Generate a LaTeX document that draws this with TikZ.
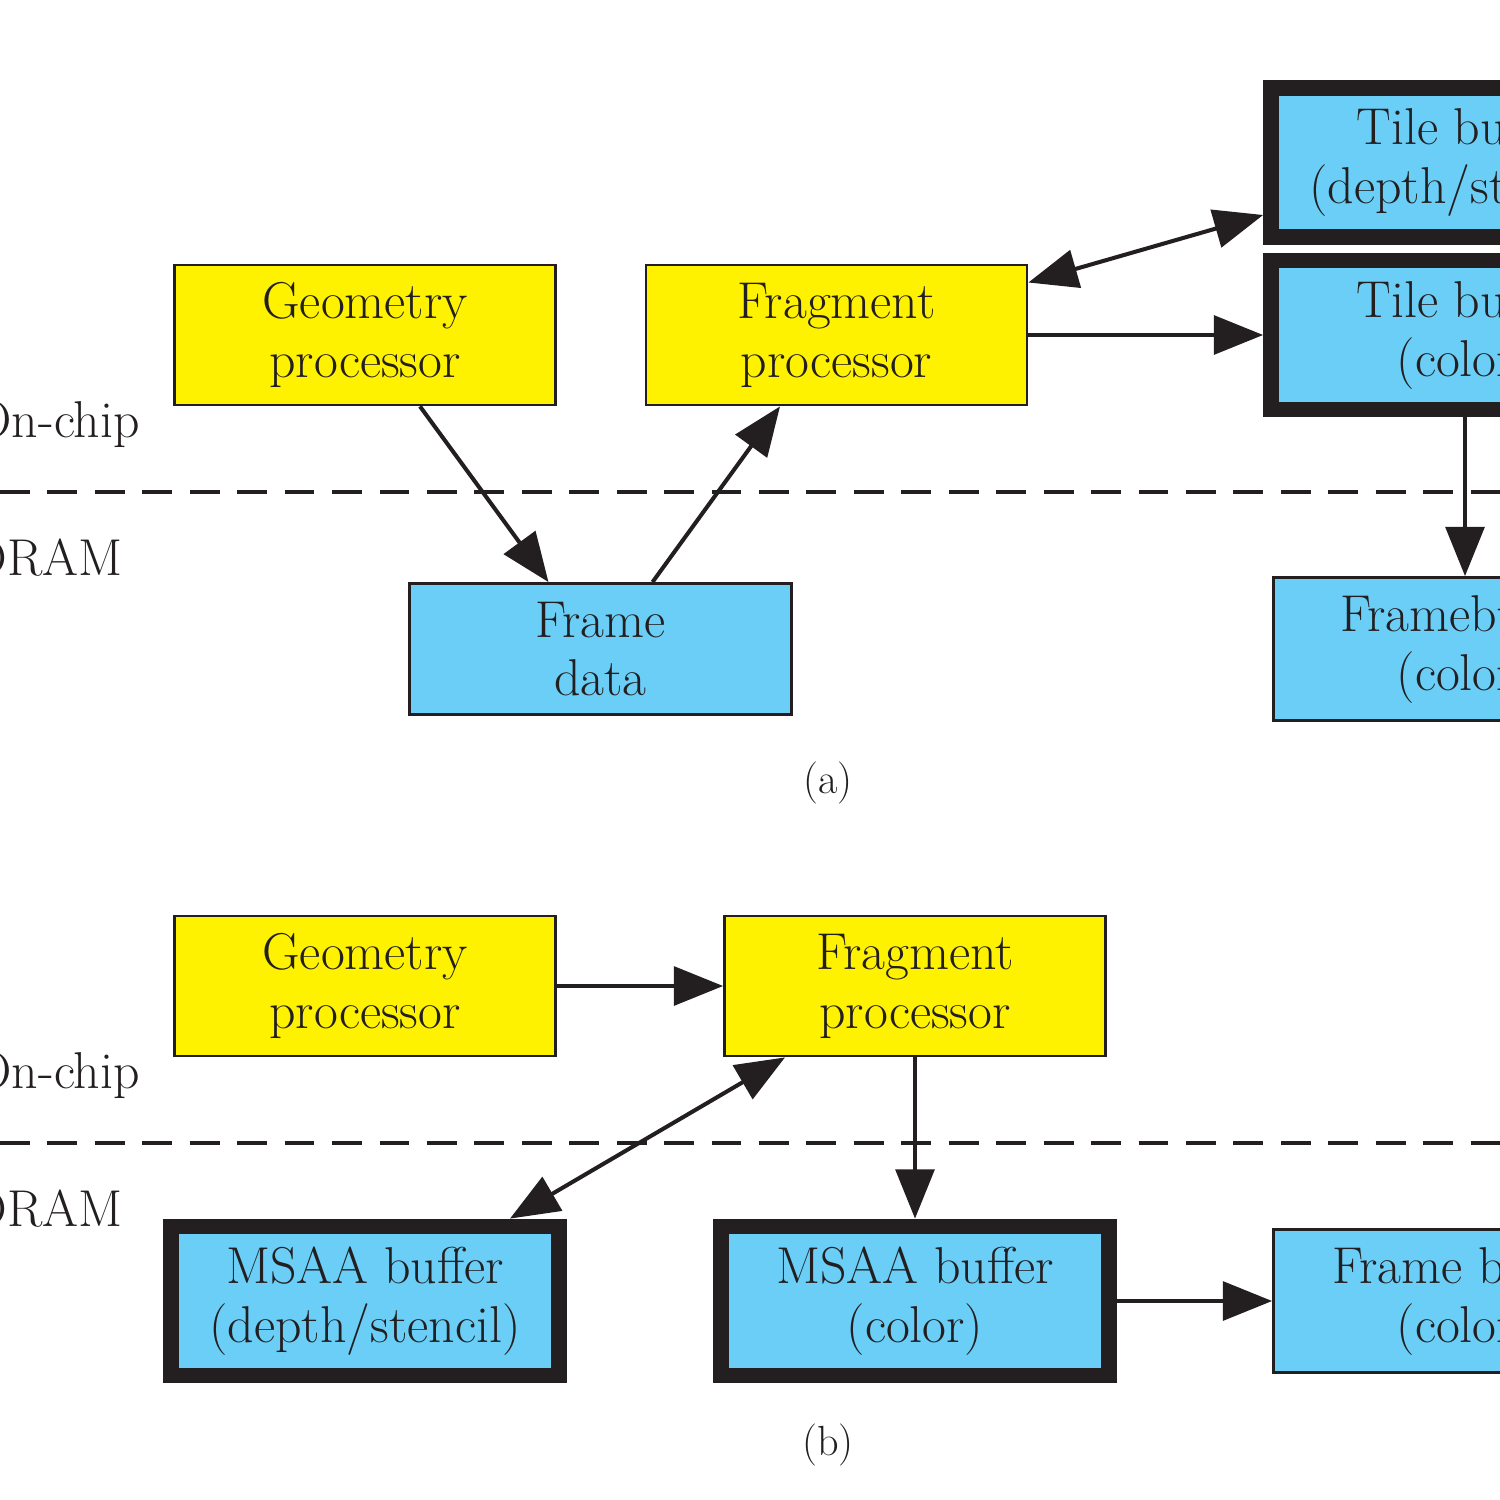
\documentclass[tikz,border=0pt]{standalone}
\usepackage{xcolor}
\usepackage{tikz}
\usetikzlibrary{arrows.meta}

\definecolor{procyellow}{RGB}{255,242,0}
\definecolor{bufblue}{RGB}{106,206,246}
\definecolor{inkblack}{RGB}{35,31,32}

\begin{document}
\begin{tikzpicture}[x=0.02cm, y=-0.02cm,
    every node/.style={text=inkblack, font=\fontsize{29.5}{33.5}\selectfont},
    proc/.style={draw=inkblack, line width=1.6pt, fill=procyellow, align=center,
                 inner sep=0pt, minimum width=7.62cm, minimum height=2.8cm},
    dram/.style={draw=inkblack, line width=1.6pt, fill=bufblue, align=center,
                 inner sep=0pt, minimum width=7.64cm, minimum height=2.8cm},
    tilebuf/.style={draw=inkblack, line width=9pt, fill=bufblue, align=center,
                 inner sep=0pt, minimum width=7.76cm, minimum height=2.98cm},
    side/.style={anchor=base east, inner sep=0pt},
    caption/.style={font=\fontsize{24}{28}\selectfont},
    conn/.style={draw=inkblack, line width=2.3pt, -{Triangle[length=28pt,width=22pt]}},
    conntwo/.style={draw=inkblack, line width=2.3pt, {Triangle[length=28pt,width=22pt]}-{Triangle[length=28pt,width=22pt]}},
    border/.style={draw=inkblack, line width=2.4pt, dash pattern=on 17pt off 10pt}]

  \useasboundingbox (0,0) rectangle (1500,1500);
  \clip (0,0) rectangle (1500,1500);

  % (a) tiled
  \node[proc] (geoA) at (365,335) {Geometry\\processor};
  \node[proc] (fragA) at (836.5,335) {Fragment\\processor};
  \node[dram, minimum height=2.62cm] (dataA) at (600.5,649) {Frame\\data};
  \node[tilebuf] (tileD) at (1465,162.5) {Tile buffer\\(depth/stencil)};
  \node[tilebuf] (tileC) at (1465,335) {Tile buffer\\(color)};
  \node[dram, minimum width=7.66cm, minimum height=2.86cm] (fbA) at (1465,649) {Framebuffer\\(color)};

  \draw[border] (0,492) -- (1500,492);
  \node[side] (chipA) at (140,437) {On-chip};
  \node[side] (ramA) at (123,575) {DRAM};
  \node[caption] (capA) at (828,783) {(a)};

  \draw[conn] ([xshift=1.1cm]geoA.south) -- ([xshift=-1.04cm]dataA.north);
  \draw[conn] ([xshift=1.04cm]dataA.north) -- ([xshift=-1.13cm]fragA.south);
  \draw[conntwo] ([yshift=1.05cm]fragA.east) -- ([yshift=-1.05cm]tileD.west);
  \draw[conn] (fragA.east) -- (tileC.west);
  \draw[conn] (tileC.south) -- (fbA.north);

  % (b) msaa
  \node[proc] (geoB) at (365,986) {Geometry\\processor};
  \node[proc] (fragB) at (915,986) {Fragment\\processor};
  \node[tilebuf] (msaaD) at (365,1301) {MSAA buffer\\(depth/stencil)};
  \node[tilebuf] (msaaC) at (915,1301) {MSAA buffer\\(color)};
  \node[dram, minimum width=7.66cm, minimum height=2.86cm] (fbB) at (1465,1301) {Frame buffer\\(color)};

  \draw[border] (0,1143) -- (1500,1143);
  \node[side] (chipB) at (140,1088) {On-chip};
  \node[side] (ramB) at (123,1226) {DRAM};
  \node[caption] (capB) at (828,1445) {(b)};

  \draw[conn] (geoB.east) -- (fragB.west);
  \draw[conntwo] ([xshift=-2.6cm]fragB.south) -- ([xshift=2.9cm]msaaD.north);
  \draw[conn] (fragB.south) -- (msaaC.north);
  \draw[conn] (msaaC.east) -- (fbB.west);

\end{tikzpicture}
\end{document}
